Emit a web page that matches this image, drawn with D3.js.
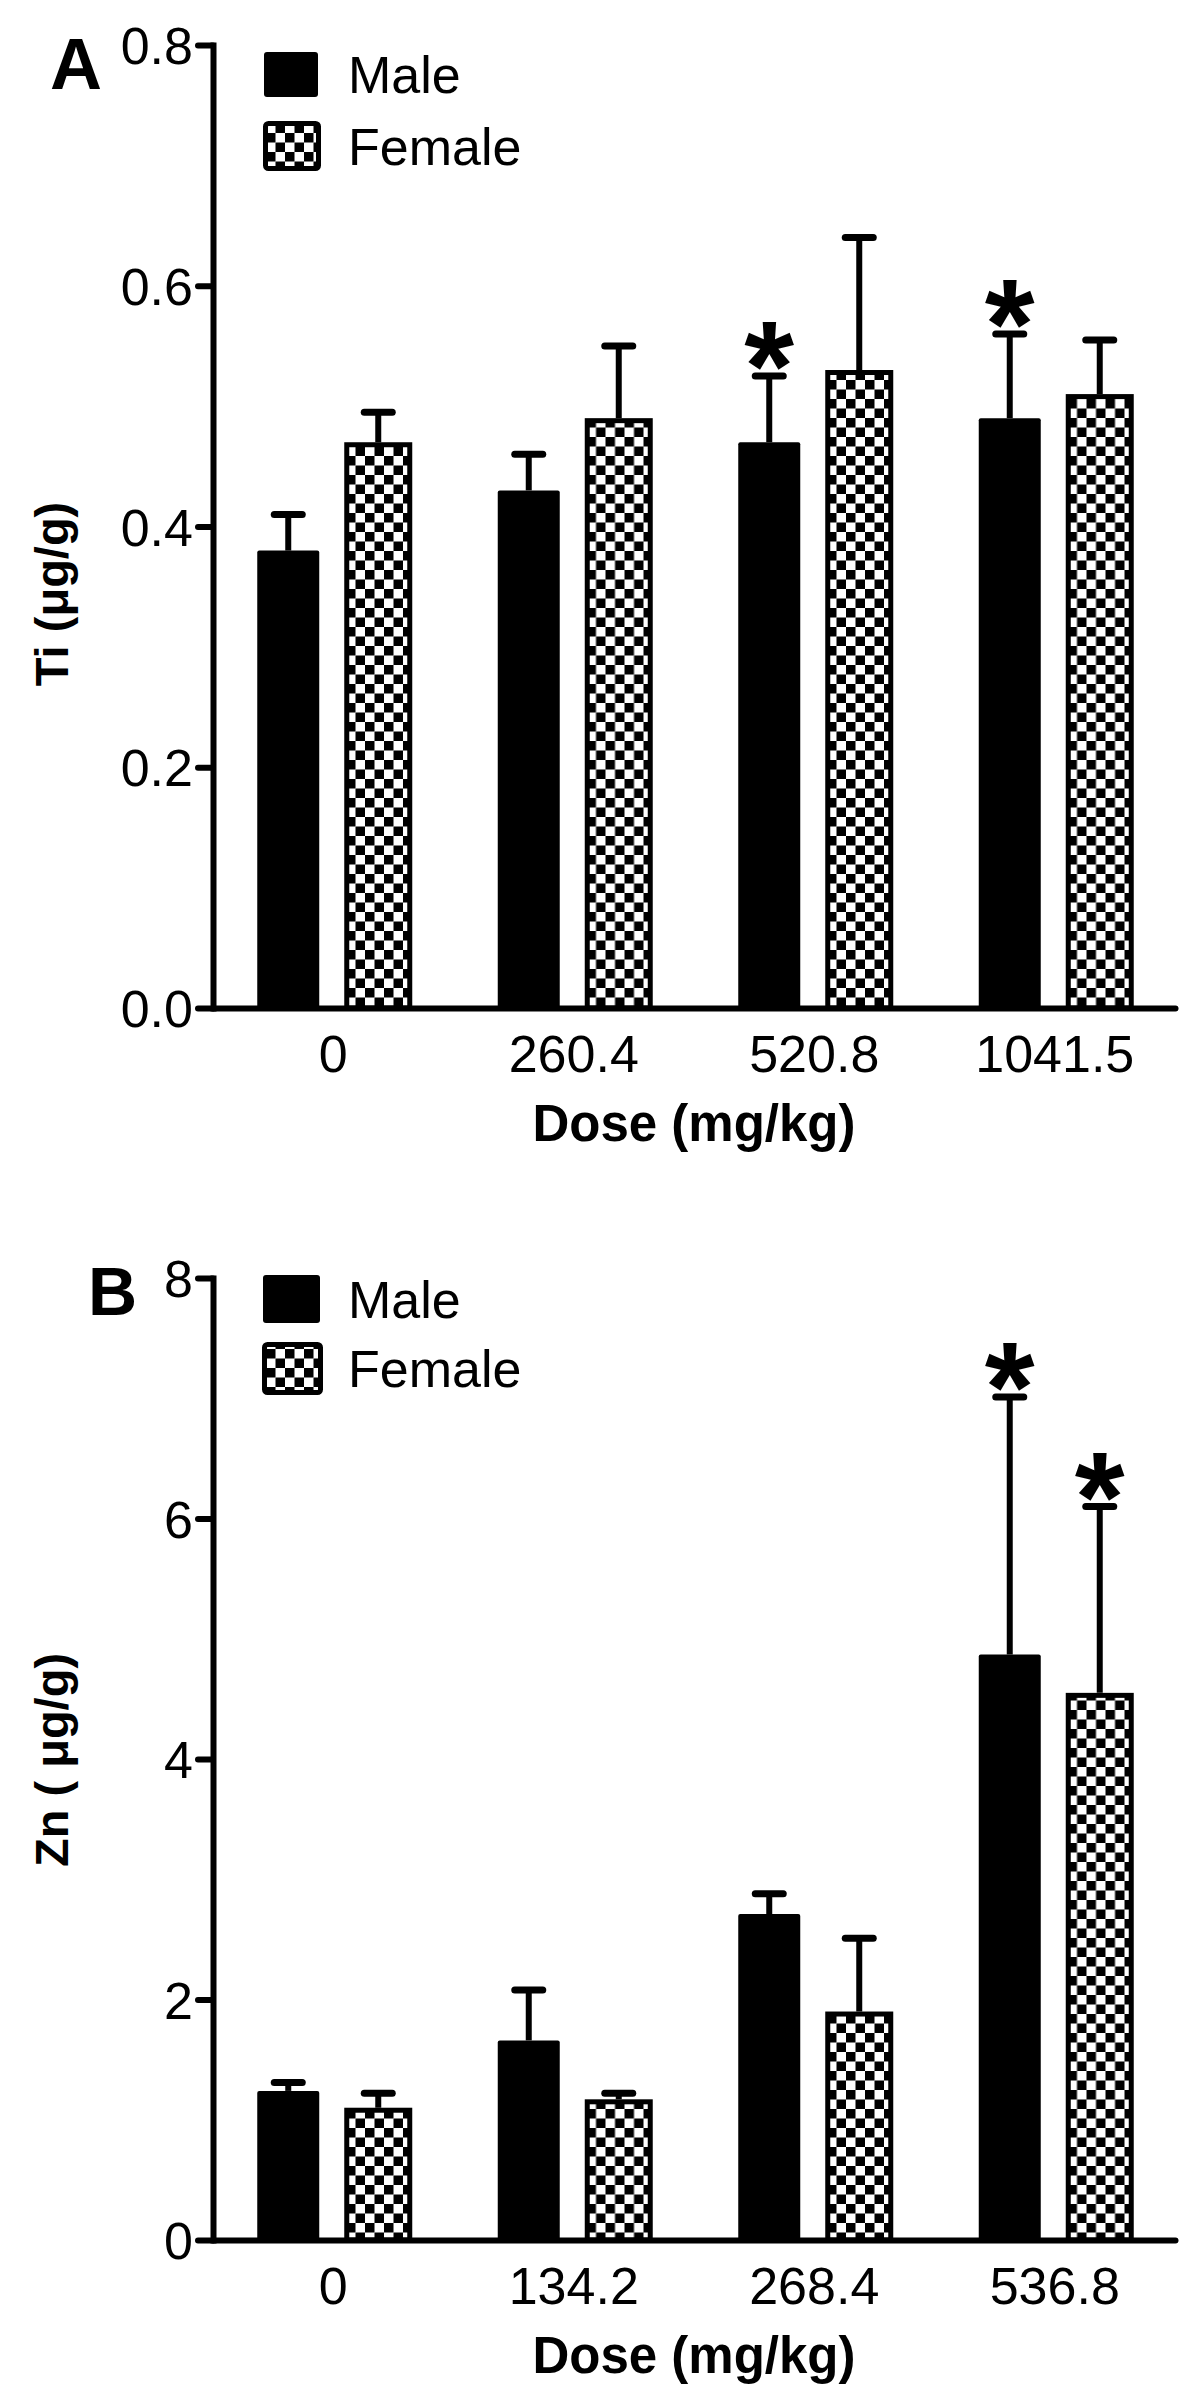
<!DOCTYPE html>
<html>
<head>
<meta charset="utf-8">
<script src="https://cdn.jsdelivr.net/npm/d3@7"></script>
<style>
  html, body { margin: 0; padding: 0; background: #fff; }
  svg text { font-family: "Liberation Sans", Arial, sans-serif; fill: #000; }
</style>
</head>
<body>
<svg id="chart" width="1200" height="2407"></svg>
<script>
// ---------------- data ----------------
const seriesNames = ["Male", "Female"];

// Panel A: Ti
const dosesA = ["0", "260.4", "520.8", "1041.5"];
const maleA = [0.38, 0.43, 0.47, 0.49];
const maleErrA = [0.03, 0.03, 0.055, 0.07];
const femaleA = [0.47, 0.49, 0.53, 0.51];
const femaleErrA = [0.025, 0.06, 0.11, 0.045];
const maleSigA = [false, false, true, true];
const femaleSigA = [false, false, false, false];
const ticksA = [0, 0.2, 0.4, 0.6, 0.8];

// Panel B: Zn
const dosesB = ["0", "134.2", "268.4", "536.8"];
const maleB = [1.24, 1.66, 2.71, 4.87];
const maleErrB = [0.07, 0.42, 0.17, 2.14];
const femaleB = [1.10, 1.17, 1.90, 4.55];
const femaleErrB = [0.12, 0.05, 0.61, 1.55];
const maleSigB = [false, false, false, true];
const femaleSigB = [false, false, false, true];
const ticksB = [0, 2, 4, 6, 8];

// ---------------- drawing ----------------
const svg = d3.select("#chart");
const defs = svg.append("defs");
const cell = 9.5;
const pat = defs.append("pattern")
  .attr("id", "checker")
  .attr("patternUnits", "userSpaceOnUse")
  .attr("width", cell * 2).attr("height", cell * 2);
pat.append("rect").attr("width", cell * 2).attr("height", cell * 2).attr("fill", "#fff");
pat.append("rect").attr("x", 0).attr("y", 0).attr("width", cell).attr("height", cell).attr("fill", "#000");
pat.append("rect").attr("x", cell).attr("y", cell).attr("width", cell).attr("height", cell).attr("fill", "#000");

const axisX0 = 213, axisX1 = 1175;
const AXW = 6;

function panel(cfg) {
  const g = svg.append("g");
  const x = d3.scaleBand().domain(cfg.doses).range([axisX0, axisX1]).padding(0);
  const xs = d3.scalePoint().domain(seriesNames).range([x.bandwidth() / 2 - 45, x.bandwidth() / 2 + 45]);
  const y = d3.scaleLinear().domain([0, cfg.ymax]).range([cfg.yBase, cfg.yTop]);

  const rows = cfg.doses.map((d, i) => ({
    dose: d,
    vals: [
      { s: "Male", v: cfg.male[i], e: cfg.maleErr[i], sig: cfg.maleSig[i] },
      { s: "Female", v: cfg.female[i], e: cfg.femaleErr[i], sig: cfg.femaleSig[i] }
    ]
  }));
  const grp = g.selectAll("g.grp").data(rows).join("g")
    .attr("transform", d => `translate(${x(d.dose)},0)`);
  const item = grp.selectAll("g.item").data(d => d.vals).join("g");

  // error bars
  item.append("line")
    .attr("x1", d => xs(d.s)).attr("x2", d => xs(d.s))
    .attr("y1", d => y(d.v)).attr("y2", d => y(d.v + d.e))
    .attr("stroke", "#000").attr("stroke-width", 6);
  item.append("line")
    .attr("x1", d => xs(d.s) - 14).attr("x2", d => xs(d.s) + 14)
    .attr("y1", d => y(d.v + d.e)).attr("y2", d => y(d.v + d.e))
    .attr("stroke", "#000").attr("stroke-width", 7).attr("stroke-linecap", "round");

  // bars
  item.filter(d => d.s === "Male").append("rect")
    .attr("x", d => xs(d.s) - 31).attr("width", 62)
    .attr("y", d => y(d.v)).attr("height", d => y(0) - y(d.v))
    .attr("fill", "#000").attr("rx", 2);
  item.filter(d => d.s === "Female").append("rect")
    .attr("x", d => xs(d.s) - 31.5).attr("width", 63)
    .attr("y", d => y(d.v) + 2.5).attr("height", d => y(0) - y(d.v) - 2.5)
    .attr("fill", "url(#checker)").attr("stroke", "#000").attr("stroke-width", 5);

  // significance stars
  const starFs = 128;
  item.filter(d => d.sig).append("text")
    .attr("x", d => xs(d.s))
    .attr("y", d => y(d.v + d.e) - 36 + 0.55 * starFs)
    .attr("text-anchor", "middle")
    .attr("font-size", starFs).attr("font-weight", "bold")
    .text("*");

  // axes
  const yAxis = d3.axisLeft(y).tickValues(cfg.ticks).tickFormat(cfg.fmt)
    .tickSizeInner(15).tickSizeOuter(0).tickPadding(5);
  const ya = g.append("g").attr("transform", `translate(${axisX0},0)`).call(yAxis);
  ya.select(".domain").attr("stroke-width", AXW).attr("stroke-linecap", "square");
  ya.selectAll(".tick line").attr("stroke-width", AXW).attr("stroke-linecap", "round");
  ya.selectAll(".tick text").attr("font-size", 52).attr("font-family", "Liberation Sans, Arial, sans-serif").attr("dy", "0.36em");

  const xAxis = d3.axisBottom(x).tickSize(0).tickPadding(27);
  const xa = g.append("g").attr("transform", `translate(0,${cfg.yBase})`).call(xAxis);
  xa.select(".domain").attr("stroke-width", AXW).attr("stroke-linecap", "round");
  xa.selectAll(".tick text").attr("font-size", 52).attr("font-family", "Liberation Sans, Arial, sans-serif");

  // axis titles
  g.append("text")
    .attr("x", (axisX0 + axisX1) / 2).attr("y", cfg.yBase + 133)
    .attr("text-anchor", "middle").attr("font-size", 51).attr("font-weight", "bold")
    .text("Dose (mg/kg)");
  g.append("text")
    .attr("transform", `translate(${cfg.ytx},${cfg.yty}) rotate(-90)`)
    .attr("text-anchor", "middle").attr("dy", "0.36em")
    .attr("font-size", 47).attr("font-weight", "bold")
    .text(cfg.ytitle);

  // panel letter
  g.append("text").attr("x", cfg.lx).attr("y", cfg.ly)
    .attr("font-size", cfg.lfs).attr("font-weight", "bold").text(cfg.letter);

  // legend
  const lg = g.append("g");
  lg.append("rect").attr("x", cfg.legX).attr("y", cfg.legY)
    .attr("width", cfg.legW).attr("height", cfg.legH).attr("rx", 3).attr("fill", "#000");
  lg.append("rect").attr("x", cfg.legX + 1.5).attr("y", cfg.legY2 + 2.5)
    .attr("width", cfg.legW - 1).attr("height", cfg.legH)
    .attr("rx", 3).attr("fill", "url(#checker)").attr("stroke", "#000").attr("stroke-width", 5);
  lg.append("text").attr("x", 348).attr("y", cfg.legY + cfg.legH / 2).attr("dy", "0.36em")
    .attr("font-size", 52).text(seriesNames[0]);
  lg.append("text").attr("x", 348).attr("y", cfg.legY2 + 2.5 + cfg.legH / 2).attr("dy", "0.36em")
    .attr("font-size", 52).text(seriesNames[1]);
}

panel({
  doses: dosesA, male: maleA, maleErr: maleErrA, female: femaleA, femaleErr: femaleErrA,
  maleSig: maleSigA, femaleSig: femaleSigA, ticks: ticksA, fmt: d3.format(".1f"),
  ymax: 0.8, yTop: 45, yBase: 1008,
  ytitle: "Ti (\u03BCg/g)", ytx: 51, yty: 594,
  letter: "A", lx: 50, ly: 89, lfs: 72,
  legX: 264, legY: 52, legW: 54, legH: 45, legY2: 121
});
panel({
  doses: dosesB, male: maleB, maleErr: maleErrB, female: femaleB, femaleErr: femaleErrB,
  maleSig: maleSigB, femaleSig: femaleSigB, ticks: ticksB, fmt: d3.format("d"),
  ymax: 8, yTop: 1278, yBase: 2240,
  ytitle: "Zn ( \u03BCg/g)", ytx: 51, yty: 1760,
  letter: "B", lx: 88, ly: 1315, lfs: 68,
  legX: 263, legY: 1275, legW: 57, legH: 48, legY2: 1342
});
</script>
</body>
</html>
